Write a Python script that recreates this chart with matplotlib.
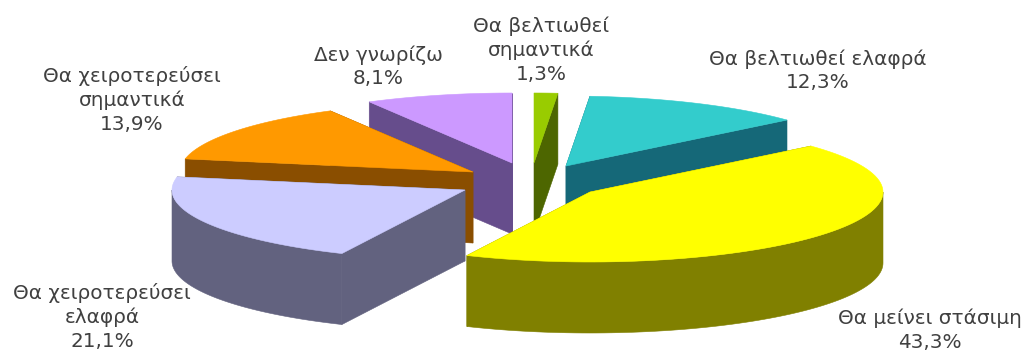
import numpy as np
import matplotlib
matplotlib.use("Agg")
import matplotlib.pyplot as plt

# clockwise from twelve o'clock
categories = [
    "Θα βελτιωθεί\nσημαντικά",
    "Θα βελτιωθεί ελαφρά",
    "Θα μείνει στάσιμη",
    "Θα χειροτερεύσει\nελαφρά",
    "Θα χειροτερεύσει\nσημαντικά",
    "Δεν γνωρίζω",
]
values = [1.3, 12.3, 43.3, 21.1, 13.9, 8.1]

top_colors = ["#99CC00", "#33CCCC", "#FFFF00", "#CCCCFF", "#FF9900", "#CC99FF"]
side_colors = ["#4D6600", "#156878", "#808000", "#62627F", "#8A4E00", "#664D8C"]

# exploded slice tips and label anchors, in pixels
tips = [(534, 163), (566, 166), (590, 192), (465, 190), (473, 172), (512, 163)]
label_pos = [(541, 50), (818, 71), (930, 330), (102, 317), (132, 100), (378, 67)]

RX, RY = 293, 70
DEPTH = 71
draw_order = [5, 0, 1, 4, 3, 2]


def rim(tip, a0, a1, n=80):
    """points along the outer edge of a slice, angles clockwise from the top"""
    ang = np.radians(np.linspace(a0, a1, n))
    return tip[0] + RX * np.sin(ang), tip[1] - RY * np.cos(ang)


def draw_slice(ax, tip, a0, a1, top, side):
    x, y = rim(tip, a0, a1)
    kw = dict(facecolor=side, edgecolor=side, linewidth=0.4)
    # the two cut faces
    for i in (0, -1):
        ax.fill([tip[0], x[i], x[i], tip[0]],
                [tip[1], y[i], y[i] + DEPTH, tip[1] + DEPTH], **kw)
    # outer wall, only the part facing the viewer
    w0, w1 = max(a0, 90), min(a1, 270)
    if w1 > w0:
        wx, wy = rim(tip, w0, w1)
        ax.fill(np.r_[wx, wx[::-1]], np.r_[wy, wy[::-1] + DEPTH], **kw)
    ax.fill(np.r_[tip[0], x], np.r_[tip[1], y],
            facecolor=top, edgecolor=top, linewidth=0.4)


fig = plt.figure(figsize=(10.25, 3.51), dpi=100)
ax = fig.add_axes([0, 0, 1, 1])
ax.set_xlim(0, 1025)
ax.set_ylim(351, 0)
ax.axis("off")

edges = np.r_[0, np.cumsum(values)] / np.sum(values) * 360
for i in draw_order:
    draw_slice(ax, tips[i], edges[i], edges[i + 1], top_colors[i], side_colors[i])

for name, val, (lx, ly) in zip(categories, values, label_pos):
    pct = f"{val:.1f}%".replace(".", ",")
    ax.text(lx, ly, name + "\n" + pct, ha="center", va="center",
            fontsize=14.4, color="#404040", family="DejaVu Sans", linespacing=1.3)

fig.savefig("out.png", dpi=100)
